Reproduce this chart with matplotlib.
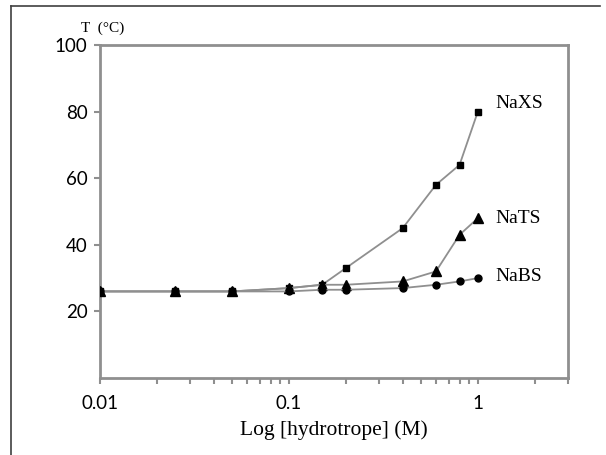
import numpy as np
import matplotlib.pyplot as plt
from matplotlib.lines import Line2D
from matplotlib.ticker import LogLocator, NullFormatter, FixedLocator, FixedFormatter

conc = [0.01, 0.025, 0.05, 0.1, 0.15, 0.2, 0.4, 0.6, 0.8, 1.0]
naxs = [26, 26, 26, 27, 28, 33, 45, 58, 64, 80]
nats = [26, 26, 26, 27, 28, 28, 29, 32, 43, 48]
nabs = [26, 26, 26, 26, 26.5, 26.5, 27, 28, 29, 30]

yticks = [20, 40, 60, 80, 100]
xticks = [0.01, 0.1, 1]
xlabels = ["0.01", "0.1", "1"]

serif = "Liberation Serif"
sans = "Lato"
gray = "#8f8f8f"

fig = plt.figure(figsize=(6.06, 4.55), dpi=100)
ax = fig.add_axes([100 / 606, 1 - 378 / 455, 468 / 606, 333 / 455])

ax.plot(conc, naxs, color=gray, lw=1.3, marker="s", ms=5, mfc="black", mec="black", zorder=3)
ax.plot(conc, nats, color=gray, lw=1.3, marker="^", ms=6.5, mfc="black", mec="black", zorder=3)
ax.plot(conc, nabs, color=gray, lw=1.3, marker="o", ms=5, mfc="black", mec="black", zorder=3)

ax.set_xscale("log")
ax.set_xlim(0.01, 3)
ax.set_ylim(0, 100)

ax.xaxis.set_major_locator(FixedLocator(xticks))
ax.xaxis.set_major_formatter(FixedFormatter(xlabels))
ax.xaxis.set_minor_locator(LogLocator(base=10, subs=np.arange(2, 10)))
ax.xaxis.set_minor_formatter(NullFormatter())
ax.set_yticks(yticks)

for s in ax.spines.values():
    s.set_color(gray)
    s.set_linewidth(2)

ax.tick_params(axis="both", which="both", direction="out", length=4, width=1.5,
               color=gray, labelsize=13.5, pad=5)
ax.tick_params(axis="x", pad=8)
for lab in ax.get_xticklabels() + ax.get_yticklabels():
    lab.set_fontfamily(sans)

ax.set_xlabel("Log [hydrotrope] (M)", fontfamily=serif, fontsize=15.5, labelpad=6)
ax.text(-0.04, 1.03, "T  (°C)", transform=ax.transAxes, fontfamily=serif, fontsize=11,
        ha="left", va="bottom")

ax.text(1.24, 82.3, "NaXS", fontfamily=serif, fontsize=14, va="center")
ax.text(1.24, 48, "NaTS", fontfamily=serif, fontsize=14, va="center")
ax.text(1.24, 30.6, "NaBS", fontfamily=serif, fontsize=14, va="center")

# outer frame (top and left edges)
fig.add_artist(Line2D([11 / 606, 11 / 606], [0, 1 - 6 / 455], color="#404040", lw=1.2))
fig.add_artist(Line2D([11 / 606, 600 / 606], [1 - 6 / 455, 1 - 6 / 455], color="#404040", lw=1.2))

fig.savefig("out.png", dpi=100)
